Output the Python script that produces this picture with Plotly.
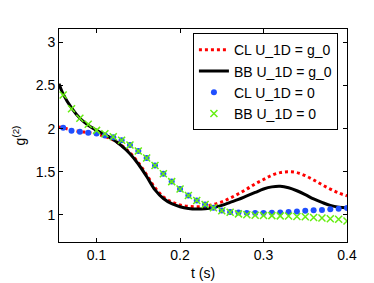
import plotly.graph_objects as go

# ---- data ----
t_line = [0.055, 0.06, 0.07, 0.08, 0.09, 0.10, 0.11, 0.12, 0.13, 0.14, 0.15, 0.16,
          0.17, 0.18, 0.19, 0.20, 0.21, 0.22, 0.23, 0.24, 0.25, 0.26, 0.27, 0.28,
          0.29, 0.30, 0.31, 0.32, 0.33, 0.34, 0.35, 0.36, 0.37, 0.38, 0.39, 0.40]
cl_g0 = [2.02, 2.01, 1.985, 1.965, 1.955, 1.935, 1.91, 1.87, 1.805, 1.72, 1.605, 1.465,
         1.315, 1.21, 1.15, 1.115, 1.10, 1.095, 1.10, 1.12, 1.15, 1.195, 1.245, 1.30,
         1.36, 1.41, 1.46, 1.49, 1.50, 1.49, 1.455, 1.405, 1.35, 1.30, 1.255, 1.22]
bb_g0 = [2.52, 2.40, 2.24, 2.12, 2.04, 1.98, 1.93, 1.875, 1.80, 1.71, 1.59, 1.445,
         1.29, 1.19, 1.13, 1.095, 1.075, 1.068, 1.072, 1.085, 1.11, 1.145, 1.18, 1.22,
         1.26, 1.30, 1.325, 1.332, 1.315, 1.28, 1.235, 1.185, 1.145, 1.11, 1.09, 1.083]

t_mark = [0.06, 0.07, 0.08, 0.09, 0.10, 0.11, 0.12, 0.13, 0.14, 0.15, 0.16, 0.17,
          0.18, 0.19, 0.20, 0.21, 0.22, 0.23, 0.24, 0.25, 0.26, 0.27, 0.28, 0.29,
          0.30, 0.31, 0.32, 0.33, 0.34, 0.35, 0.36, 0.37, 0.38, 0.39, 0.40]
cl_0 = [2.01, 1.975, 1.963, 1.952, 1.943, 1.92, 1.90, 1.866, 1.81, 1.74, 1.66, 1.573,
        1.478, 1.386, 1.30, 1.226, 1.166, 1.12, 1.083, 1.05, 1.034, 1.027, 1.022, 1.022,
        1.022, 1.025, 1.029, 1.033, 1.04, 1.047, 1.054, 1.058, 1.065, 1.072, 1.079]
bb_0 = [2.39, 2.23, 2.12, 2.05, 1.98, 1.94, 1.905, 1.866, 1.81, 1.74, 1.66, 1.573,
        1.478, 1.386, 1.30, 1.226, 1.166, 1.12, 1.083, 1.048, 1.03, 1.012, 1.002, 0.996,
        0.993, 0.992, 0.989, 0.988, 0.982, 0.978, 0.971, 0.964, 0.955, 0.95, 0.93]

x_ticks = [0.1, 0.2, 0.3, 0.4]
y_ticks = [1, 1.5, 2, 2.5, 3]

FONT = "Liberation Sans, Arial, sans-serif"

fig = go.Figure()
fig.add_trace(go.Scatter(x=t_line, y=cl_g0, mode="lines", name="CL U_1D = g_0",
                         line=dict(color="#ff0000", width=3, dash="dot", shape="spline")))
fig.add_trace(go.Scatter(x=t_line, y=bb_g0, mode="lines", name="BB U_1D = g_0",
                         line=dict(color="#000000", width=3, shape="spline")))
fig.add_trace(go.Scatter(x=t_mark, y=cl_0, mode="markers", name="CL U_1D = 0",
                         marker=dict(color="#1f4fff", size=6, symbol="circle")))
fig.add_trace(go.Scatter(x=t_mark, y=bb_0, mode="markers", name="BB U_1D = 0",
                         marker=dict(color="#66ee11", size=7, symbol="x-thin",
                                     line=dict(color="#66ee11", width=1.5))))

axis_common = dict(showline=True, linecolor="black", linewidth=1, mirror="ticks",
                   ticks="inside", ticklen=4, tickcolor="black", showgrid=False,
                   zeroline=False, tickfont=dict(family=FONT, size=14, color="black"))

fig.update_layout(
    width=374, height=283,
    margin=dict(l=49, r=35, t=21, b=34),
    paper_bgcolor="white", plot_bgcolor="white",
    font=dict(family=FONT, size=14, color="black"),
    xaxis=dict(range=[0.055, 0.4], tickvals=x_ticks, ticktext=[str(v) for v in x_ticks],
               title=dict(text="t (s)", standoff=6, font=dict(family=FONT, size=14)),
               **axis_common),
    yaxis=dict(range=[0.686, 3.155], tickvals=y_ticks, ticktext=["1", "1.5", "2", "2.5", "3"],
               title=dict(text="g<sup>(2)</sup>", standoff=6, font=dict(family=FONT, size=14)),
               **axis_common),
    legend=dict(x=0.465, y=0.98, xanchor="left", yanchor="top",
                bordercolor="black", borderwidth=1, bgcolor="white",
                font=dict(family=FONT, size=14), itemwidth=30,
                tracegroupgap=0),
    showlegend=True,
)

fig.write_html("out.html")
